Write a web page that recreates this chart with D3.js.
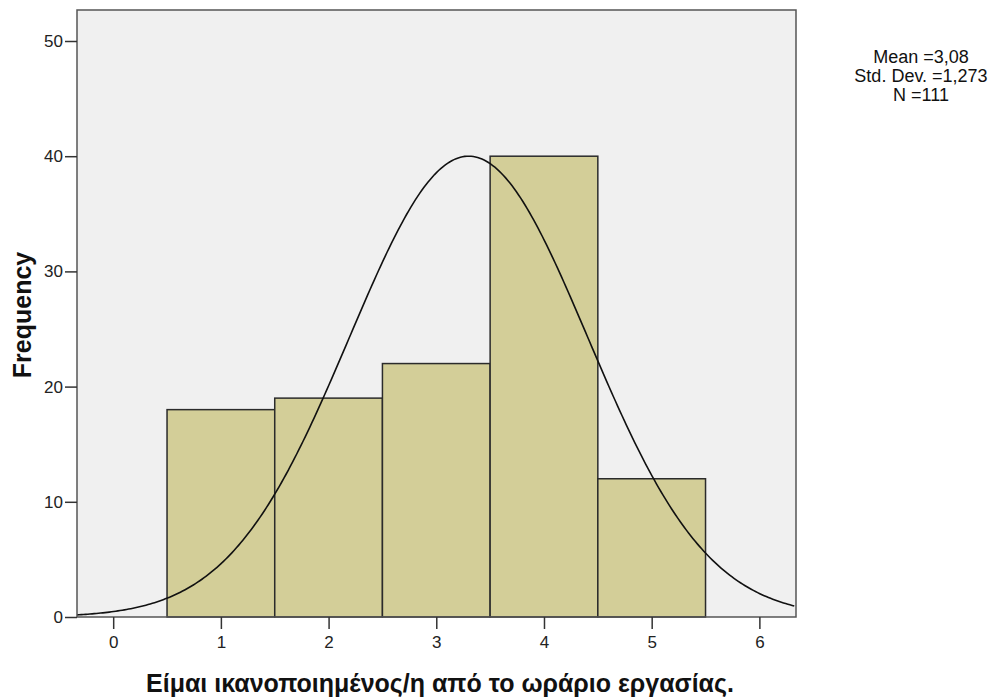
<!DOCTYPE html>
<html>
<head>
<meta charset="utf-8">
<script src="https://cdn.jsdelivr.net/npm/d3@7"></script>
<style>
  body { margin: 0; background: #fff; }
  svg { display: block; font-family: 'Liberation Sans', Arial, sans-serif; }
</style>
</head>
<body>
<div id="chart"></div>
<script>
// histogram values
const binCenters = [1, 2, 3, 4, 5];
const frequencies = [18, 19, 22, 40, 12];
const xTicks = [0, 1, 2, 3, 4, 5, 6];
const yTicks = [0, 10, 20, 30, 40, 50];
const statLines = ['Mean =3,08', 'Std. Dev. =1,273', 'N =111'];

// normal curve as drawn (peak/location)
const curveMean = 3.3;
const curveSd = 1.107;
const curveN = 111;

const width = 1001, height = 700;
const plot = { left: 77, top: 10, right: 796, bottom: 617 };
const FONT = "'Liberation Sans', Arial, sans-serif";

const svg = d3.select('#chart').append('svg')
  .attr('width', width).attr('height', height);

const x = d3.scaleLinear().domain([-0.336, 6.34]).range([plot.left, plot.right]);
const y = d3.scaleLinear().domain([0, 50]).range([plot.bottom, 41]);

// background
svg.append('rect')
  .attr('x', plot.left).attr('y', plot.top)
  .attr('width', plot.right - plot.left).attr('height', plot.bottom - plot.top)
  .attr('fill', '#f0f0f0');

// bars
svg.append('g')
  .selectAll('rect')
  .data(binCenters)
  .join('rect')
  .attr('x', d => x(d - 0.5))
  .attr('width', d => x(d + 0.5) - x(d - 0.5))
  .attr('y', (d, i) => y(frequencies[i]))
  .attr('height', (d, i) => y(0) - y(frequencies[i]))
  .attr('fill', '#d3ce98')
  .attr('stroke', '#2b2b2b')
  .attr('stroke-width', 1.5);

// normal curve
const curvePts = d3.range(x.domain()[0], x.domain()[1] + 0.001, 0.02).map(v => [
  v,
  curveN / (curveSd * Math.sqrt(2 * Math.PI)) * Math.exp(-((v - curveMean) ** 2) / (2 * curveSd * curveSd))
]);
svg.append('path')
  .datum(curvePts)
  .attr('fill', 'none')
  .attr('stroke', '#111')
  .attr('stroke-width', 1.6)
  .attr('d', d3.line().x(d => x(d[0])).y(d => y(d[1])));

// frame
svg.append('rect')
  .attr('x', plot.left).attr('y', plot.top)
  .attr('width', plot.right - plot.left).attr('height', plot.bottom - plot.top)
  .attr('fill', 'none')
  .attr('stroke', '#555')
  .attr('stroke-width', 1.5);

// axes
const xAxis = svg.append('g')
  .attr('transform', `translate(0,${plot.bottom})`)
  .call(d3.axisBottom(x).tickValues(xTicks).tickSize(12).tickPadding(7).tickFormat(d3.format('d')));
const yAxis = svg.append('g')
  .attr('transform', `translate(${plot.left},0)`)
  .call(d3.axisLeft(y).tickValues(yTicks).tickSize(12).tickPadding(2).tickFormat(d3.format('d')));
[xAxis, yAxis].forEach(g => {
  g.attr('font-size', 17).attr('font-family', FONT);
  g.select('.domain').remove();
  g.selectAll('line').attr('stroke', '#333').attr('stroke-width', 1.5);
  g.selectAll('text').attr('fill', '#222');
});

// axis titles
svg.append('text')
  .attr('x', 440).attr('y', 692)
  .attr('text-anchor', 'middle')
  .attr('font-size', 25).attr('font-weight', 'bold')
  .attr('fill', '#111')
  .text('Είμαι ικανοποιημένος/η από το ωράριο εργασίας.');
svg.append('text')
  .attr('transform', 'translate(31,315) rotate(-90)')
  .attr('text-anchor', 'middle')
  .attr('font-size', 25).attr('font-weight', 'bold')
  .attr('fill', '#111')
  .text('Frequency');

// stats box
svg.append('g')
  .selectAll('text')
  .data(statLines)
  .join('text')
  .attr('x', 921)
  .attr('y', (d, i) => 63 + i * 19)
  .attr('text-anchor', 'middle')
  .attr('font-size', 18)
  .attr('fill', '#111')
  .text(d => d);
</script>
</body>
</html>
